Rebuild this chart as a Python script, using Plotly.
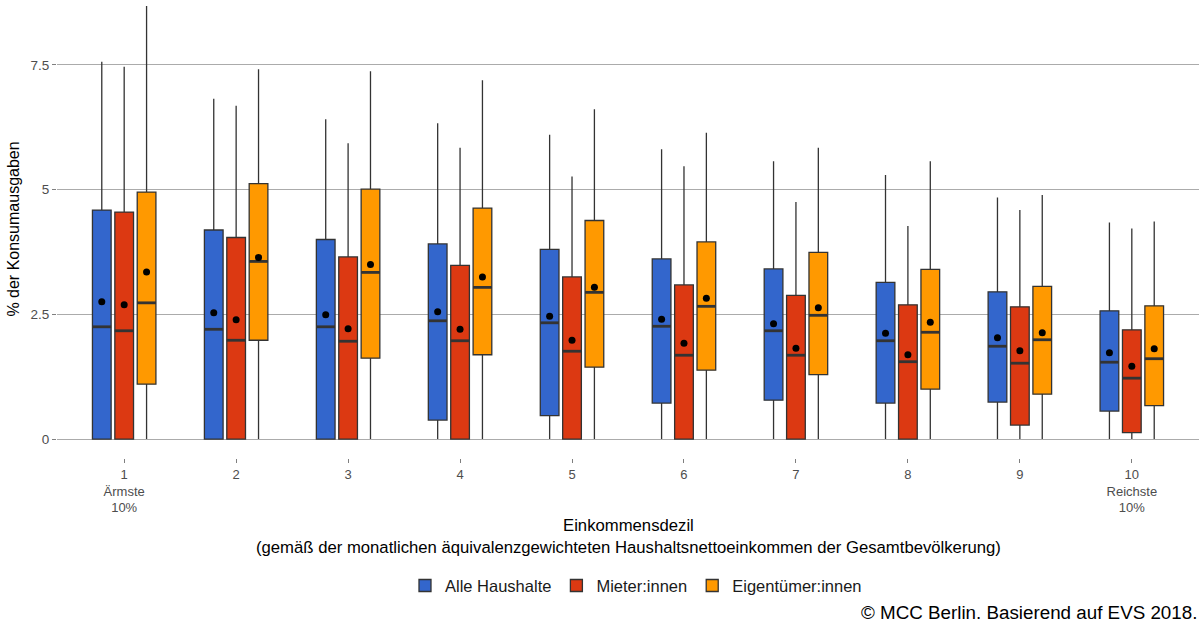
import plotly.graph_objects as go

deciles = [1, 2, 3, 4, 5, 6, 7, 8, 9, 10]
tick_labels = ["1<br>Ärmste<br>10%", "2", "3", "4", "5", "6", "7", "8", "9", "10<br>Reichste<br>10%"]
series_names = ["Alle Haushalte", "Mieter:innen", "Eigentümer:innen"]
colors = ["#3366CC", "#DC3912", "#FF9900"]

# Alle Haushalte
alle_upper = [7.56, 6.82, 6.41, 6.33, 6.10, 5.81, 5.57, 5.29, 4.84, 4.34]
alle_q3 = [4.59, 4.19, 4.00, 3.91, 3.80, 3.61, 3.41, 3.14, 2.95, 2.57]
alle_median = [2.25, 2.20, 2.25, 2.37, 2.33, 2.26, 2.17, 1.97, 1.86, 1.54]
alle_q1 = [0.0, 0.0, 0.0, 0.38, 0.47, 0.72, 0.78, 0.72, 0.74, 0.56]
alle_lower = [0, 0, 0, 0, 0, 0, 0, 0, 0, 0]
alle_mean = [2.75, 2.53, 2.49, 2.55, 2.46, 2.40, 2.31, 2.12, 2.03, 1.73]

# Mieter:innen
miet_upper = [7.46, 6.68, 5.93, 5.84, 5.26, 5.47, 4.75, 4.27, 4.59, 4.22]
miet_q3 = [4.55, 4.04, 3.65, 3.48, 3.25, 3.09, 2.88, 2.69, 2.65, 2.19]
miet_median = [2.17, 1.98, 1.96, 1.97, 1.76, 1.68, 1.68, 1.55, 1.52, 1.22]
miet_q1 = [0.0, 0.0, 0.0, 0.0, 0.0, 0.0, 0.0, 0.0, 0.28, 0.13]
miet_lower = [0, 0, 0, 0, 0, 0, 0, 0, 0, 0]
miet_mean = [2.69, 2.39, 2.21, 2.20, 1.98, 1.92, 1.82, 1.69, 1.77, 1.46]

# Eigentümer:innen
eig_upper = [8.68, 7.41, 7.37, 7.19, 6.61, 6.14, 5.84, 5.57, 4.89, 4.36]
eig_q3 = [4.95, 5.12, 5.01, 4.63, 4.38, 3.95, 3.74, 3.40, 3.06, 2.67]
eig_median = [2.73, 3.56, 3.34, 3.04, 2.94, 2.66, 2.48, 2.14, 1.99, 1.61]
eig_q1 = [1.10, 1.98, 1.62, 1.69, 1.44, 1.38, 1.29, 1.00, 0.90, 0.67]
eig_lower = [0, 0, 0, 0, 0, 0, 0, 0, 0, 0]
eig_mean = [3.35, 3.64, 3.50, 3.25, 3.04, 2.82, 2.63, 2.34, 2.13, 1.81]

stats = [
    (alle_upper, alle_q3, alle_median, alle_q1, alle_lower, alle_mean),
    (miet_upper, miet_q3, miet_median, miet_q1, miet_lower, miet_mean),
    (eig_upper, eig_q3, eig_median, eig_q1, eig_lower, eig_mean),
]

dodge = 0.2
box_w = 0.167
font_family = "Liberation Sans, Arial, sans-serif"

fig = go.Figure()
for i, (name, col, st) in enumerate(zip(series_names, colors, stats)):
    up, q3, med, q1, lo, mn = st
    off = (i - 1) * dodge
    xs = [d + off for d in deciles]
    fig.add_trace(go.Box(
        name=name, x=xs, q1=q1, median=med, q3=q3,
        lowerfence=lo, upperfence=up, width=box_w,
        fillcolor=col, line=dict(color="#333333", width=1.3),
        whiskerwidth=0, boxpoints=False, hoverinfo="skip",
        legendgroup=name,
    ))
    # thicker median lines
    mx, my = [], []
    for x, m in zip(xs, med):
        mx += [x - box_w / 2, x + box_w / 2, None]
        my += [m, m, None]
    fig.add_trace(go.Scatter(x=mx, y=my, mode="lines",
                             line=dict(color="#333333", width=2.8),
                             showlegend=False, hoverinfo="skip", legendgroup=name))
    fig.add_trace(go.Scatter(x=xs, y=mn, mode="markers",
                             marker=dict(color="black", size=7),
                             showlegend=False, hoverinfo="skip", legendgroup=name))

fig.update_layout(
    width=1199, height=630,
    margin=dict(l=57, r=0, t=0, b=172, autoexpand=False),
    paper_bgcolor="white", plot_bgcolor="white",
    font=dict(family=font_family, color="#4d4d4d", size=13),
    boxmode="overlay",
    legend=dict(orientation="h", x=0.507, xanchor="center", y=-0.279, yanchor="middle",
                font=dict(size=16.5, color="#1a1a1a", family=font_family),
                itemwidth=30, tracegroupgap=0),
)
fig.update_xaxes(
    range=[0.4, 10.6], tickvals=deciles, ticktext=tick_labels,
    showgrid=False, zeroline=False, showline=False, automargin=False,
    ticks="outside", ticklen=4, tickcolor="#7f7f7f", tickwidth=1,
    tickfont=dict(size=13, color="#4d4d4d"),
)
fig.update_yaxes(
    range=[-0.38, 8.8], tickvals=[0, 2.5, 5, 7.5], ticktext=["0", "2.5", "5", "7.5"],
    showgrid=True, gridcolor="#ababab", gridwidth=1.2, zeroline=False, showline=False,
    automargin=False,
    ticks="outside", ticklen=4, tickcolor="#7f7f7f", tickwidth=1,
    tickfont=dict(size=13.5, color="#4d4d4d"),
    title=dict(text="% der Konsumausgaben", font=dict(size=16, color="black"), standoff=6),
)
fig.add_annotation(
    text="Einkommensdezil<br>(gemäß der monatlichen äquivalenzgewichteten Haushaltsnettoeinkommen der Gesamtbevölkerung)",
    xref="paper", yref="paper", x=0.5, y=-0.172, xanchor="center", yanchor="middle",
    showarrow=False, font=dict(size=16.7, color="black"),
)
fig.add_annotation(
    text="© MCC Berlin. Basierend auf EVS 2018.",
    xref="paper", yref="paper", x=1.0, y=-0.338, xanchor="right", yanchor="middle",
    showarrow=False, font=dict(size=18.8, color="black"),
)
fig.write_html("out.html", config={"displayModeBar": False})

# remove default page margin so the figure sits at the window's top-left corner
with open("out.html", "r", encoding="utf-8") as f:
    html = f.read()
html = html.replace("<body>", "<body style=\"margin:0;padding:0;overflow:hidden\">", 1)
with open("out.html", "w", encoding="utf-8") as f:
    f.write(html)
